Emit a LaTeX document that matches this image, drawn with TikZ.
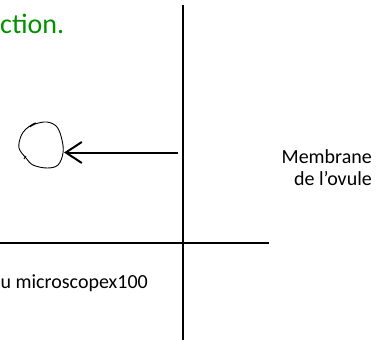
\documentclass[tikz,border=0pt]{standalone}
\usepackage{fontspec}
\setmainfont{Carlito}
\usetikzlibrary{arrows.meta}
\definecolor{titlegreen}{RGB}{0,145,0}
\begin{document}
\begin{tikzpicture}[x=1pt,y=-1pt,
  axis/.style={line width=2pt, line cap=butt},
  pointer/.style={line width=2pt, -{Straight Barb[length=16pt,width=21pt,line width=2pt]}},
  blob/.style={line width=0.9pt},
  caption/.style={inner sep=0pt, font=\fontsize{20}{23}\selectfont},
  heading/.style={inner sep=0pt, text=titlegreen, font=\fontsize{28}{32}\selectfont}]
  \useasboundingbox (0,0) rectangle (391,340);
  \clip (0,0) rectangle (391,340);

  % cross-shaped axes
  \coordinate (vtop) at (182.5,5);
  \coordinate (vbot) at (182.5,340);
  \coordinate (hleft) at (0,243);
  \coordinate (hright) at (269,243);
  \draw[axis] (vtop) -- (vbot);
  \draw[axis] (hleft) -- (hright);

  % hand-drawn cell
  \coordinate (cell) at (41,145);
  \draw[blob] plot[smooth, tension=0.6] coordinates {
    (30,127) (35,124) (47,122) (57,127) (62,140) (63,153) (58,165)
    (47,168) (33,165) (26,158) (19,148) (21,136) (26,129) (33,124) (36,123)};
  \draw[blob] (24,159) -- (26,156);

  % arrow from the membrane towards the cell
  \coordinate (src) at (178,152.5);
  \coordinate (tip) at (64,152.5);
  \draw[pointer] (src) -- (tip);

  % texts
  \node[heading, anchor=base west] (title) at (0,33) {ction.};
  \node[caption, anchor=base east] (mem1) at (372,163) {Membrane};
  \node[caption, anchor=base east] (mem2) at (372,185) {de l’ovule};
  \node[caption, anchor=base east] (scope) at (148,288) {u microscopex100};
\end{tikzpicture}
\end{document}
